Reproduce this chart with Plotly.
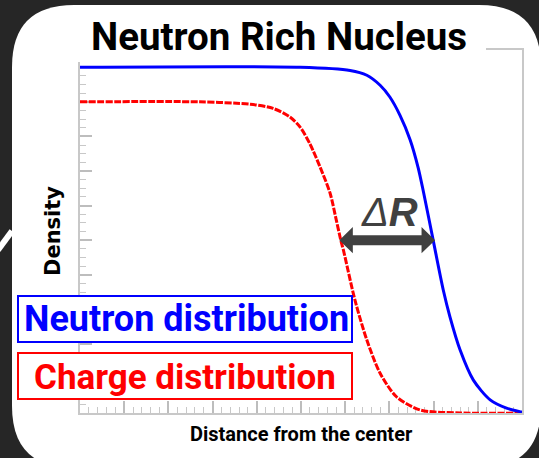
import plotly.graph_objects as go

# ---- data ----
neutron_x = [0, 4.98, 6.11, 6.49, 6.79, 7.01, 7.24, 7.47, 7.65, 7.77, 7.99, 8.22, 8.37, 8.60, 8.90, 9.28, 9.65, 9.95, 10]
neutron_y = [10.0, 10.0, 9.91, 9.77, 9.48, 9.14, 8.61, 7.90, 7.10, 6.40, 5.0, 3.55, 2.78, 1.82, 0.95, 0.38, 0.14, 0.04, 0.03]

charge_x = [0, 2.71, 3.85, 4.37, 4.75, 4.98, 5.20, 5.43, 5.66, 5.79, 5.90, 5.96, 6.22, 6.49, 6.79, 7.16, 7.69, 8.6, 10]
charge_y = [9.0, 9.0, 8.93, 8.81, 8.56, 8.27, 7.79, 7.12, 6.35, 5.63, 5.0, 4.71, 3.27, 2.11, 1.15, 0.47, 0.09, 0.0, 0.0]

half_density = 5.0
charge_half_radius = 5.9
neutron_half_radius = 8.0

title_text = "Neutron Rich Nucleus"
neutron_label = "Neutron distribution"
charge_label = "Charge distribution"
x_title = "Distance from the center"
y_title = "Density"
delta_label = "<i>Δ</i><b><i>R</i></b>"

# ---- layout geometry (pixels) ----
W, H = 539, 458
L, R, T, B = 80, 17, 50, 45
PW, PH = W - L - R, H - T - B

def px(x):
    return (x - L) / PW

def py(y):
    return (H - B - y) / PH

NARROW = "Roboto, Liberation Sans, sans-serif"

fig = go.Figure()
fig.add_trace(go.Scatter(x=charge_x, y=charge_y, mode="lines",
                         line=dict(color="#ff0000", width=3, dash="7px,1.5px", shape="spline", smoothing=0.8),
                         hoverinfo="skip"))
fig.add_trace(go.Scatter(x=neutron_x, y=neutron_y, mode="lines",
                         line=dict(color="#0000ff", width=3, shape="spline", smoothing=0.8),
                         hoverinfo="skip"))

shapes = []
# white rounded card
x0, y0, x1, y1, r = 12, 5, 541, 468, 62
path = (f"M {px(x0+r)},{py(y0)} L {px(x1-r)},{py(y0)} "
        f"Q {px(x1)},{py(y0)} {px(x1)},{py(y0+r)} L {px(x1)},{py(y1-r)} "
        f"Q {px(x1)},{py(y1)} {px(x1-r)},{py(y1)} L {px(x0+r)},{py(y1)} "
        f"Q {px(x0)},{py(y1)} {px(x0)},{py(y1-r)} L {px(x0)},{py(y0+r)} "
        f"Q {px(x0)},{py(y0)} {px(x0+r)},{py(y0)} Z")
shapes.append(dict(type="path", xref="paper", yref="paper", path=path,
                   fillcolor="white", line=dict(width=0), layer="below"))
# stray white stroke at the left edge
shapes.append(dict(type="line", xref="paper", yref="paper", x0=px(-2), y0=py(250), x1=px(12), y1=py(231),
                   line=dict(color="white", width=6), layer="below"))
# white patch behind the title
shapes.append(dict(type="rect", xref="paper", yref="paper", x0=px(60), y0=py(62), x1=px(486), y1=py(10),
                   fillcolor="white", line=dict(width=0), layer="above"))
# legend boxes
shapes.append(dict(type="rect", xref="paper", yref="paper", x0=px(18), y0=py(342), x1=px(352), y1=py(296),
                   fillcolor="white", line=dict(color="#0000ff", width=2), layer="above"))
shapes.append(dict(type="rect", xref="paper", yref="paper", x0=px(18), y0=py(399), x1=px(352), y1=py(353),
                   fillcolor="white", line=dict(color="#ff0000", width=2), layer="above"))
# Delta R double arrow
ac = "#404040"
head_len = 0.25
head_half = 0.31
shapes.append(dict(type="line", xref="x", yref="y",
                   x0=charge_half_radius + head_len * 0.8, y0=half_density,
                   x1=neutron_half_radius - head_len * 0.8, y1=half_density,
                   line=dict(color=ac, width=10), layer="above"))
for tip, d in [(neutron_half_radius, -1), (charge_half_radius, 1)]:
    shapes.append(dict(type="path", xref="x", yref="y",
                       path=f"M {tip},{half_density} L {tip + d*head_len},{half_density + head_half} "
                            f"L {tip + d*head_len},{half_density - head_half} Z",
                       fillcolor=ac, line=dict(color=ac, width=2), layer="above"))

annotations = [
    dict(text=f"<b>{title_text}</b>", xref="paper", yref="paper", x=px(279), y=py(37),
         showarrow=False, font=dict(family=NARROW, size=38.5, color="black"), xanchor="center", yanchor="middle"),
    dict(text=f"<b>{neutron_label}</b>", xref="paper", yref="paper", x=px(186), y=py(319),
         showarrow=False, font=dict(family=NARROW, size=36, color="#0000ff"), xanchor="center", yanchor="middle"),
    dict(text=f"<b>{charge_label}</b>", xref="paper", yref="paper", x=px(185), y=py(377),
         showarrow=False, font=dict(family=NARROW, size=35, color="#ff0000"), xanchor="center", yanchor="middle"),
    dict(text=delta_label, xref="x", yref="y", x=(charge_half_radius + neutron_half_radius) / 2 + 0.05,
         y=half_density, yshift=28, showarrow=False,
         font=dict(family="Liberation Sans, Arial, sans-serif", size=40, color=ac), xanchor="center", yanchor="middle"),
    dict(text=f"<b>{x_title}</b>", xref="paper", yref="paper", x=px(301), y=py(434),
         showarrow=False, font=dict(family=NARROW, size=20, color="black"), xanchor="center", yanchor="middle"),
    dict(text=f"<b>{y_title}</b>", xref="paper", yref="paper", x=px(53), y=py(231), textangle=-90,
         showarrow=False, font=dict(family="DejaVu Sans, sans-serif", size=21, color="black"),
         xanchor="center", yanchor="middle"),
]

axis_common = dict(showgrid=False, zeroline=False, showticklabels=False, showline=True,
                   linecolor="#c8c8c8", linewidth=2, mirror=True, ticks="inside",
                   ticklen=12, tickwidth=1.5, tickcolor="#bdbdbd", layer="below traces")
fig.update_xaxes(range=[0, 10], dtick=1, tick0=0,
                 minor=dict(dtick=0.2, ticks="inside", ticklen=6, tickwidth=1.2, tickcolor="#c8c8c8"),
                 **axis_common)
fig.update_yaxes(range=[0, 10.5], dtick=1, tick0=0,
                 minor=dict(dtick=0.25, ticks="inside", ticklen=6, tickwidth=1.2, tickcolor="#c8c8c8"),
                 **axis_common)

fig.update_layout(width=W, height=H, margin=dict(l=L, r=R, t=T, b=B, pad=0),
                  paper_bgcolor="#262626", plot_bgcolor="rgba(0,0,0,0)",
                  showlegend=False, shapes=shapes, annotations=annotations)

fig.write_html("out.html", config={"displayModeBar": False},
               post_script="document.body.style.margin='0';document.body.style.background='#262626';")
